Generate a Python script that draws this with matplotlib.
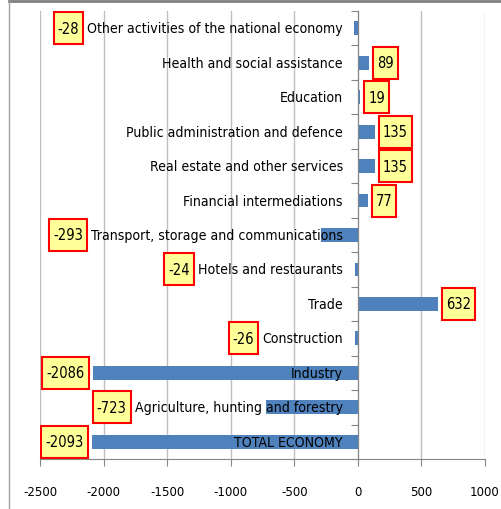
import matplotlib
matplotlib.use("Agg")
import matplotlib.pyplot as plt
from matplotlib import font_manager
from matplotlib.lines import Line2D
from matplotlib.patches import Rectangle
import matplotlib.transforms as mtransforms

## Data: change in employment by activity (top row first)
sectors = [
    "Other activities of the national economy",
    "Health and social assistance",
    "Education",
    "Public administration and defence",
    "Real estate and other services",
    "Financial intermediations",
    "Transport, storage and communications",
    "Hotels and restaurants",
    "Trade",
    "Construction",
    "Industry",
    "Agriculture, hunting and forestry",
    "TOTAL ECONOMY",
]
changes = [-28, 89, 19, 135, 135, 77, -293, -24, 632, -26, -2086, -723, -2093]
xticks = [-2500, -2000, -1500, -1000, -500, 0, 500, 1000]


def narrow_font():
    # Prefer a condensed sans face; plain Lato otherwise
    fonts = font_manager.fontManager.ttflist
    for f in fonts:
        if f.name == 'Liberation Sans Narrow' and f.style == 'normal' and f.weight in (400, 'normal', 'regular'):
            return font_manager.FontProperties(fname=f.fname)
    for f in fonts:
        if f.name == 'DejaVu Sans' and 'condensed' in str(f.stretch) and f.style == 'normal' \
                and f.weight in (400, 'normal', 'regular', 'book'):
            return font_manager.FontProperties(fname=f.fname)
    return font_manager.FontProperties(family='Lato')


fp = narrow_font()
barColor = '#4F81BD'
W, H = 501, 510
fig = plt.figure(figsize=(W / 100, H / 100), dpi=100)
ax = fig.add_axes([40 / W, 1 - 460 / H, 445 / W, 448 / H])

ypos = list(range(len(sectors)))
ax.barh(ypos, changes, height=0.4, color=barColor, zorder=2)

ax.set_xlim(xticks[0], xticks[-1])
ax.set_ylim(len(sectors) - 0.5, -0.5)
ax.set_xticks(xticks)
ax.set_xticklabels([str(t) for t in xticks])
for lab in ax.get_xticklabels():
    lab.set_fontproperties(fp)
    lab.set_fontsize(11)
ax.grid(axis='x', color='#BFBFBF', linewidth=1, zorder=0)
ax.set_axisbelow(True)

# Category axis sits on zero, ticks between categories
ax.spines['left'].set_position(('data', 0))
ax.spines['left'].set_color('#868686')
ax.spines['bottom'].set_color('#868686')
ax.spines['right'].set_visible(False)
ax.spines['top'].set_visible(False)
ax.set_yticks([i - 0.5 for i in range(len(sectors) + 1)])
ax.set_yticklabels([])
ax.tick_params(axis='y', direction='out', length=5, color='#868686')
ax.tick_params(axis='x', direction='out', length=5, color='#868686', pad=14)

# Category names drawn just left of the zero line
offset = mtransforms.ScaledTranslation(-15 / 100, 0, fig.dpi_scale_trans)
names = []
for y, name in zip(ypos, sectors):
    t = ax.text(0, y, name, transform=ax.transData + offset, fontproperties=fp,
                ha='right', va='center', fontsize=12, zorder=4)
    names.append(t)

vals = []
for y, val in zip(ypos, changes):
    vals.append(ax.text(0, y, str(val), fontproperties=fp, ha='center',
                        va='center', fontsize=13, zorder=6))

fig.canvas.draw()
renderer = fig.canvas.get_renderer()


def fit(texts, ref, target):
    # scale font so the reference string is target px wide
    w = texts[ref].get_window_extent(renderer).width
    size = texts[ref].get_fontsize() * target / w
    for t in texts:
        t.set_fontsize(size)


fit(names, 0, 255)
fit(vals, 10, 38)
ticklabs = ax.get_xticklabels()
fit(ticklabs, 0, 34)
fig.canvas.draw()

inv = ax.transData.inverted()
boxH = 32

# Value boxes: past the bar end, kept clear of the category name for negatives
for y, val, t, v in zip(ypos, changes, names, vals):
    ext = v.get_window_extent(renderer)
    boxW = ext.width + 8
    barEnd, yc = ax.transData.transform((val, y))
    if val >= 0:
        x0 = barEnd + 4
    else:
        textLeft = t.get_window_extent(renderer).x0
        x0 = min(barEnd, textLeft) - 4 - boxW
    (dx0, dy0) = inv.transform((x0, yc - boxH / 2))
    (dx1, dy1) = inv.transform((x0 + boxW, yc + boxH / 2))
    ax.add_patch(Rectangle((dx0, dy0), dx1 - dx0, dy1 - dy0, fc='#FFFF99',
                           ec='#FF0000', lw=1.5, zorder=5))
    v.set_x((dx0 + dx1) / 2)

# Chart-area frame
fig.add_artist(Line2D([9 / W, 1], [1 - 2 / H, 1 - 2 / H], color='#808080', lw=2,
                      transform=fig.transFigure))
fig.add_artist(Line2D([9 / W, 9 / W], [0, 1 - 2 / H], color='#A0A0A0', lw=1,
                      transform=fig.transFigure))

fig.savefig("out.png", dpi=100)
